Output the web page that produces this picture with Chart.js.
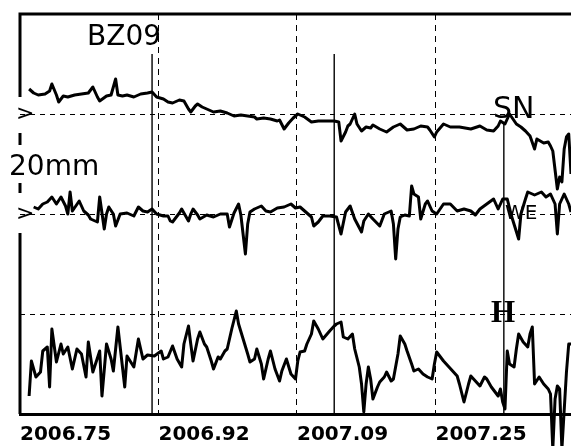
<!DOCTYPE html>
<html>
<head>
<meta charset="utf-8">
<title>BZ09</title>
<script src="https://cdn.jsdelivr.net/npm/chart.js@4.4.0/dist/chart.umd.min.js"></script>
<style>
  html, body { margin: 0; padding: 0; background: #fff; overflow: hidden; }
  canvas { display: block; }
</style>
</head>
<body>
<canvas id="gpsChart" width="571" height="456"></canvas>
<script>
// Station BZ09 - time in days since 2006-10-01 (= 2006.75), displacement in mm
const startYear = 2006.75;
const tickYears = [2006.75, 2006.9167, 2007.0833, 2007.25];
const tickLabels = ["2006.75", "2006.92", "2007.09", "2007.25"];

// south-north component
const snDays = [4,6,8,11,13,14,16,17,19,21,24,27,30,32,34,35,38,40,42,43,
  45,47,50,53,56,58,60,63,65,67,70,72,74,75,77,78,80,82,85,88,
  91,94,97,100,103,104,107,110,113,114,116,118,120,122,125,128,131,135,138,140,
  141,143,144,145,147,148,150,152,154,155,158,161,164,167,170,173,176,179,180,182,
  183,186,189,193,198,202,205,208,210,211,213,215,218,220,222,224,226,227,230,232,
  233,234,236,237,238,239,240,241,242];
const snValues = [5.0,4.2,3.8,4.0,4.6,6.0,3.8,2.4,3.6,3.4,3.8,4.0,4.2,5.4,3.4,2.6,3.6,3.8,7.0,3.8,
  3.6,3.8,3.4,4.0,4.2,4.4,3.4,3.0,2.4,2.2,2.8,2.6,1.0,0.4,1.6,2.0,1.4,1.0,0.4,0.6,
  0.2,-0.4,-0.2,-0.4,-0.6,-1.0,-0.8,-1.0,-1.4,-1.2,-3.0,-1.8,-0.8,0.0,-0.6,-1.6,-1.4,-1.4,-1.4,-1.6,
  -5.4,-3.6,-2.4,-2.0,0.0,-2.0,-3.4,-2.6,-2.8,-2.2,-3.0,-3.6,-2.6,-2.0,-3.2,-3.0,-2.4,-2.6,-3.2,-4.6,
  -3.6,-2.0,-2.6,-2.6,-3.0,-2.4,-3.2,-3.4,-2.4,-1.4,-2.0,0.0,-2.0,-2.6,-3.4,-4.4,-7.0,-5.0,-5.8,-5.6,
  -6.4,-7.4,-15.0,-12.6,-13.6,-7.0,-4.6,-4.0,-12.0];

// west-east component
const weDays = [6,8,10,12,14,16,18,20,21,22,23,26,28,30,31,34,35,37,38,39,
  41,42,44,47,50,52,54,56,58,60,63,65,66,67,70,71,74,75,76,78,
  79,82,85,88,91,92,94,96,97,99,100,101,103,106,108,110,113,116,119,121,
  123,125,128,129,131,133,136,139,141,143,145,147,150,151,153,155,158,160,163,164,
  165,166,167,169,171,172,173,175,176,178,179,181,183,186,189,192,195,198,200,202,
  205,208,210,212,214,216,219,220,222,223,226,229,231,233,235,236,237,239,241,242];
const weValues = [1.4,1.0,2.0,2.4,3.4,2.0,3.4,1.6,0.0,4.4,0.6,2.6,0.6,-0.2,-1.0,-1.6,3.4,-3.0,0.0,1.4,
  0.0,-2.4,0.0,0.2,-0.4,1.4,0.6,0.4,1.0,0.0,-0.4,-0.4,-1.4,-1.6,0.2,1.0,-1.4,0.0,1.0,-0.2,
  -1.0,-0.2,-0.6,0.0,0.0,-2.6,0.2,2.0,-0.2,-8.0,-2.0,0.4,1.0,1.6,0.6,0.4,1.2,1.4,2.0,1.2,
  1.4,0.6,-0.6,-2.4,-1.6,-0.4,-0.4,-0.6,-4.0,0.4,1.6,-1.0,-3.6,-1.4,0.0,-1.0,-2.4,0.0,0.6,-2.0,
  -9.0,-3.0,-0.6,-0.2,-0.4,5.6,4.0,3.4,-1.0,2.0,2.6,0.6,0.0,2.0,2.0,0.6,1.0,0.6,-0.2,1.0,
  2.0,3.0,1.0,3.0,3.0,-0.6,-5.0,0.0,3.0,4.4,3.8,4.4,3.4,4.0,2.0,-4.0,2.0,4.0,2.0,0.4];

// vertical component
const hDays = [4,5,7,9,10,12,13,14,16,18,19,21,23,25,27,29,30,32,35,36,
  38,40,41,43,46,47,50,52,54,56,59,62,63,65,67,69,71,72,74,75,
  76,78,79,81,82,84,85,87,88,90,91,93,95,96,98,100,101,103,104,106,
  107,109,110,112,114,115,117,119,121,122,123,125,126,128,129,131,133,136,138,139,
  141,142,144,146,147,149,150,151,152,153,154,155,157,158,160,161,163,164,166,167,
  169,170,172,173,175,177,179,181,182,183,186,188,190,192,193,195,197,198,200,202,
  204,205,207,210,211,212,213,214,215,217,218,219,221,223,224,225,226,228,230,232,
  233,234,235,236,237,238,240,241,242];
const hValues = [-16.4,-9.4,-12.6,-11.6,-7.4,-6.6,-14.6,-3.0,-9.6,-6.0,-8.0,-6.6,-11.0,-7.0,-8.0,-12.6,-5.6,-11.6,-7.4,-16.4,
  -6.0,-9.0,-11.4,-2.6,-14.6,-8.4,-10.6,-5.0,-9.0,-8.2,-8.4,-7.4,-9.0,-8.6,-6.4,-9.0,-10.6,-6.0,-2.4,-6.0,
  -9.4,-5.0,-3.6,-6.0,-6.6,-9.4,-11.0,-8.6,-9.0,-7.4,-7.0,-3.0,0.6,-2.0,-5.0,-8.0,-9.6,-9.0,-7.0,-10.0,
  -13.0,-9.0,-7.4,-11.0,-13.4,-11.4,-9.0,-12.0,-13.0,-9.4,-7.6,-7.4,-6.0,-4.0,-1.4,-3.0,-5.0,-3.4,-2.4,-2.0,
  -1.6,-4.6,-5.0,-4.0,-7.0,-10.6,-14.0,-19.6,-14.0,-10.6,-13.0,-17.0,-14.6,-13.6,-12.6,-11.6,-13.4,-13.0,-8.0,-4.4,
  -6.0,-7.4,-10.0,-11.4,-11.0,-12.0,-12.6,-13.0,-10.0,-7.6,-9.4,-10.4,-11.4,-12.4,-14.0,-17.6,-14.0,-12.4,-13.4,-14.4,
  -12.6,-13.0,-14.6,-16.4,-15.0,-17.6,-19.0,-7.4,-10.0,-10.6,-7.0,-4.0,-5.6,-6.6,-4.0,-2.6,-14.0,-12.6,-14.0,-15.0,
  -16.0,-27.0,-17.0,-14.4,-15.0,-27.0,-11.6,-6.0,-6.0];

// earthquake marks: day and top of the line (mm on the plot)
const eventDays = [58, 138, 212.5];
const eventTops = [52, 52, 38];

// baselines of the three traces on the plot
const snOffset = 40, weOffset = 20, hOffset = 0;
const yMin = -20, yMax = 60;
const xMax = 2007.413;

// left frame is broken around the markers and the scale label
const leftFrame = [[60, 43.4], [36.2, 33.8], [26.2, 24.2], [16.2, -20]];

const toPoints = (days, values, offset) =>
    days.map((d, i) => ({ x: startYear + d / 365, y: values[i] + offset }));

const trace = (label, days, values, offset) => ({
    label: label,
    data: toPoints(days, values, offset),
    borderColor: "#000",
    borderWidth: 3,
    borderJoinStyle: "round",
    pointRadius: 0,
    tension: 0,
    fill: false,
    clip: false,
    order: 0
});

const eventSets = eventDays.map((d, i) => ({
    label: "event " + (i + 1),
    data: [{ x: startYear + d / 365, y: yMin }, { x: startYear + d / 365, y: eventTops[i] }],
    borderColor: "#000",
    borderWidth: 1.4,
    pointRadius: 0,
    order: 2
}));

const annotate = {
    id: "annotate",
    afterDraw(chart) {
        const { ctx, chartArea: area, scales: { y } } = chart;
        ctx.save();
        ctx.strokeStyle = "#000";
        ctx.lineWidth = 3;
        ctx.beginPath();
        ctx.moveTo(area.left - 1.5, area.top);
        ctx.lineTo(area.right, area.top);
        leftFrame.forEach(([a, b]) => {
            ctx.moveTo(area.left, y.getPixelForValue(a));
            ctx.lineTo(area.left, y.getPixelForValue(b));
        });
        ctx.stroke();

        ctx.fillStyle = "#000";
        ctx.textAlign = "left";
        ctx.textBaseline = "alphabetic";
        ctx.font = '28px "DejaVu Sans"';
        ctx.fillText("BZ09", 87, 45);
        ctx.fillText("20mm", 9, 175);
        ctx.font = '30px "DejaVu Sans"';
        ctx.fillText("SN", 493, 118);
        ctx.font = '20px "DejaVu Sans"';
        ctx.fillText("WE", 505, 219);
        ctx.font = 'bold 31px "Liberation Serif"';
        ctx.fillText("H", 491, 322);

        ctx.font = '22px "DejaVu Sans"';
        ctx.textBaseline = "middle";
        [snOffset, weOffset].forEach(v => ctx.fillText(">", 16, y.getPixelForValue(v)));
        ctx.restore();
    }
};

const chartCtx = document.getElementById("gpsChart").getContext("2d");
new Chart(chartCtx, {
    type: "line",
    data: {
        datasets: [
            trace("SN", snDays, snValues, snOffset),
            trace("WE", weDays, weValues, weOffset),
            trace("H", hDays, hValues, hOffset),
            ...eventSets
        ]
    },
    options: {
        responsive: false,
        animation: false,
        layout: { padding: { left: 20, top: 14, right: 0, bottom: 0 } },
        plugins: { legend: { display: false }, tooltip: { enabled: false } },
        scales: {
            x: {
                type: "linear",
                min: startYear,
                max: xMax,
                afterBuildTicks: scale => { scale.ticks = tickYears.map(v => ({ value: v })); },
                ticks: {
                    callback: (value, index) => tickLabels[index],
                    align: "start",
                    autoSkip: false,
                    maxRotation: 0,
                    padding: 9,
                    color: "#000",
                    font: { family: "DejaVu Sans", size: 20, weight: "bold" }
                },
                grid: {
                    color: c => (c.index === 0 ? "rgba(0,0,0,0)" : "#000"),
                    lineWidth: 1,
                    drawTicks: false
                },
                border: { display: true, color: "#000", width: 3, dash: [6, 5] }
            },
            y: {
                type: "linear",
                min: yMin,
                max: yMax,
                afterBuildTicks: scale => { scale.ticks = [hOffset, weOffset, snOffset].map(v => ({ value: v })); },
                ticks: { display: false },
                grid: { color: "#000", lineWidth: 1, drawTicks: false },
                border: { display: false, dash: [5, 5] }
            }
        }
    },
    plugins: [annotate]
});
</script>
</body>
</html>
